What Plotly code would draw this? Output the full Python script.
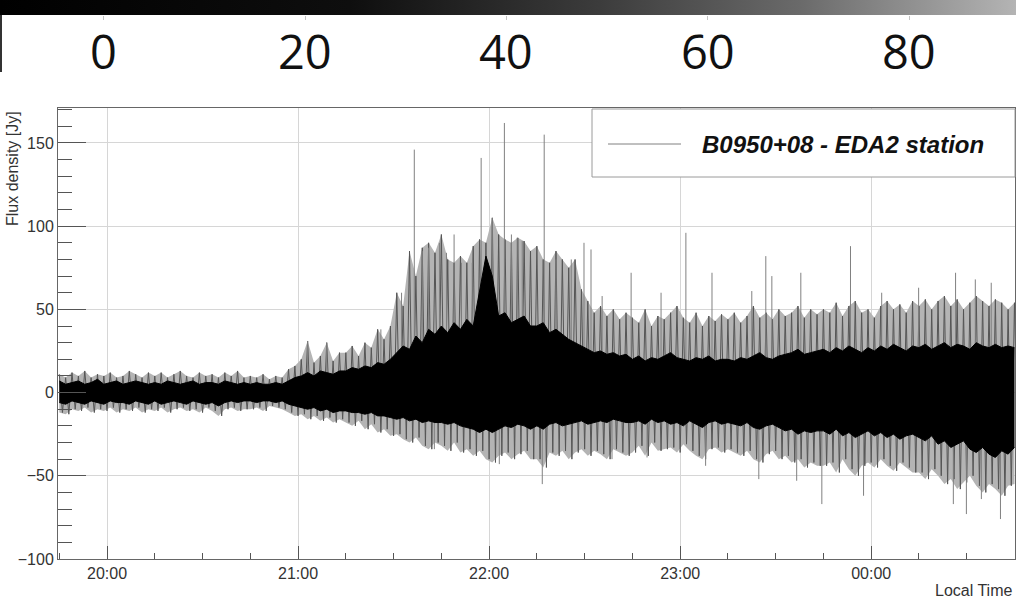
import pandas as pd
import plotly.graph_objects as go

# ---------------- data ----------------
START = pd.Timestamp("2019-01-01 19:45:00")
STEP_MIN = 2  # one reading every 2 minutes, 19:45 ... 00:45

# extremes of the grey noise (upper / lower) per 2-minute slot
outer_hi = [
    11, 9, 12, 10, 13, 9, 11, 10, 12, 9, 10, 13, 11, 9, 12,
    10, 12, 9, 11, 13, 10, 9, 12, 10, 11, 9, 12, 10, 13, 9,
    10, 9, 11, 8, 10, 9, 14, 16, 20, 31, 18, 22, 30, 19, 24,
    24, 28, 22, 30, 27, 38, 32, 40, 60, 52, 85, 70, 87, 90, 84,
    95, 80, 78, 82, 78, 88, 92, 90, 105, 95, 92, 90, 93, 91, 85,
    88, 80, 78, 85, 80, 75, 80, 62, 55, 48, 52, 46, 50, 44, 48,
    45, 42, 50, 40, 46, 44, 48, 52, 45, 42, 48, 40, 46, 43, 47,
    44, 48, 42, 46, 52, 45, 48, 44, 50, 46, 48, 52, 45, 50, 47,
    50, 48, 54, 46, 52, 55, 48, 50, 45, 52, 55, 50, 53, 48, 55,
    52, 56, 50, 55, 58, 52, 56, 50, 54, 58, 55, 52, 56, 54, 50,
    54,
]
outer_lo = [
    -12, -13, -10, -11, -9, -12, -10, -11, -9, -12, -10, -11, -9, -12, -10,
    -11, -9, -12, -10, -9, -11, -10, -12, -9, -11, -14, -10, -9, -11, -10,
    -10, -9, -11, -8, -9, -10, -12, -14, -13, -16, -14, -17, -15, -18, -16,
    -18, -20, -17, -22, -19, -24, -22, -26, -25, -28, -30, -27, -32, -34, -30,
    -32, -35, -30, -36, -34, -38, -35, -40, -42, -38, -36, -40, -37, -35, -40,
    -40, -45, -36, -38, -35, -40, -36, -34, -38, -35, -37, -40, -34, -36, -38,
    -36, -32, -38, -30, -35, -34, -33, -36, -31, -35, -38, -40, -34, -33, -36,
    -34, -36, -38, -35, -40, -42, -37, -35, -40, -38, -42, -40, -45, -42, -44,
    -44, -42, -48, -40, -46, -50, -44, -42, -45, -40, -44, -47, -42, -45, -48,
    -48, -52, -46, -50, -55, -52, -58, -54, -50, -56, -60, -55, -58, -62, -56,
    -55,
]
# edges of the dense black core per 2-minute slot
core_hi = [
    7, 5, 6, 7, 5, 6, 8, 5, 6, 7, 5, 6, 7, 6, 5,
    6, 5, 7, 6, 5, 6, 7, 5, 6, 6, 5, 7, 6, 5, 6,
    5, 6, 5, 5, 6, 5, 7, 9, 10, 12, 10, 13, 12, 11, 13,
    13, 15, 14, 16, 15, 18, 17, 20, 24, 28, 26, 34, 30, 38, 35,
    40, 36, 42, 38, 44, 40, 62, 82, 70, 46, 48, 42, 44, 46, 40,
    40, 42, 36, 38, 35, 32, 30, 28, 26, 24, 25, 23, 24, 22, 23,
    20, 22, 19, 21, 20, 22, 24, 21, 20, 19, 21, 20, 22, 19, 20,
    20, 19, 21, 20, 22, 24, 21, 20, 22, 23, 24, 26, 23, 24, 25,
    26, 24, 27, 25, 28, 26, 24, 27, 25, 28, 26, 29, 27, 25, 28,
    27, 29, 26, 28, 30, 27, 29, 28, 26, 30, 28, 27, 29, 27, 28,
    27,
]
core_lo = [
    -6, -7, -5, -6, -7, -5, -6, -7, -5, -6, -6, -7, -5, -6, -7,
    -5, -7, -6, -5, -6, -7, -5, -6, -7, -6, -8, -6, -5, -6, -5,
    -5, -6, -5, -5, -6, -5, -7, -8, -9, -10, -9, -11, -10, -12, -11,
    -11, -12, -12, -13, -12, -14, -14, -15, -16, -15, -17, -16, -18, -17, -18,
    -18, -19, -18, -20, -21, -22, -24, -22, -24, -22, -20, -21, -19, -20, -22,
    -20, -22, -19, -18, -20, -19, -18, -17, -19, -18, -17, -18, -16, -17, -18,
    -18, -17, -19, -16, -18, -17, -19, -18, -20, -17, -19, -21, -18, -17, -19,
    -18, -19, -20, -18, -21, -22, -20, -19, -21, -23, -22, -25, -23, -24, -23,
    -23, -25, -22, -26, -24, -27, -25, -23, -26, -24, -27, -25, -28, -26, -25,
    -27, -29, -26, -31, -29, -33, -31, -29, -34, -36, -33, -37, -39, -35, -37,
    -33,
]

# isolated tall spikes (local time, flux)
spike_times = [
    "21:03:00", "21:09:00", "21:26:00", "21:32:30", "21:36:30", "21:39:00",
    "21:41:00", "21:44:24", "21:46:36", "21:49:00", "21:51:18", "21:54:42",
    "21:57:30", "22:01:00", "22:04:48", "22:07:00", "22:08:48", "22:10:24",
    "22:17:18", "22:21:00", "22:25:48", "22:29:48", "22:32:00", "22:35:30",
    "22:44:36", "22:54:00", "23:01:48", "23:10:00", "23:22:30", "23:26:54",
    "23:28:48", "23:37:54", "23:53:30", "00:03:18", "00:14:54", "00:26:30",
    "00:32:42", "00:37:42",
]
spike_vals = [
    31, 30, 38, 60, 146, 85,
    87, 90, 84, 95, 78, 78,
    141, 105, 162, 95, 93, 91,
    155, 80, 80, 90, 86, 58,
    72, 60, 96, 72, 61, 82,
    70, 72, 88, 60, 63, 72,
    68, 66,
]
dip_times = [
    "21:42:48", "22:03:12", "22:16:42", "22:38:36", "22:49:36", "23:08:00",
    "23:24:42", "23:36:36", "23:44:30", "23:57:36", "00:25:48", "00:29:54",
    "00:34:36", "00:40:36",
]
dip_vals = [
    -34, -43, -55, -40, -39, -44,
    -52, -53, -67, -62, -67, -73,
    -64, -76,
]

hour_ticks = ["20:00", "21:00", "22:00", "23:00", "00:00"]
y_ticks = [-100, -50, 0, 50, 100, 150]
cbar_ticks = [0, 20, 40, 60, 80]
CBAR_MIN, CBAR_MAX = -10.3, 90.6
legend_label = "B0950+08 - EDA2 station"


# ---------------- helpers ----------------
def clock(s):
    t = pd.Timestamp(f"2019-01-01 {s}")
    if t.hour < 12:
        t += pd.Timedelta(days=1)
    return t


slots = [START + pd.Timedelta(minutes=STEP_MIN * i) for i in range(len(outer_hi))]
half = pd.Timedelta(minutes=STEP_MIN / 2)


def zigzag(hi, lo):
    xs, ys = [], []
    for t, a, b in zip(slots, hi, lo):
        xs += [t, t + half]
        ys += [a, b]
    return xs, ys


def sticks(times, vals):
    xs, ys = [], []
    for t, v in zip(times, vals):
        tt = clock(t)
        xs += [tt, tt, None]
        ys += [0, v, None]
    return xs, ys


W, H = 1016, 604
def px(x):
    return x / W
def py(y):
    return 1 - y / H

GREY = "#808080"
FONT = "Liberation Sans"
SKIP = dict(hoverinfo="skip", showlegend=False)

fig = go.Figure()

# grey halo (band between the grey extremes)
fig.add_trace(go.Scatter(x=slots, y=outer_lo, mode="lines", line=dict(width=0), **SKIP))
fig.add_trace(go.Scatter(x=slots, y=outer_hi, mode="lines", line=dict(width=0),
                         fill="tonexty", fillcolor="#b4b4b4", **SKIP))
# grey noise strokes
zx, zy = zigzag(outer_hi, outer_lo)
fig.add_trace(go.Scatter(x=zx, y=zy, mode="lines", line=dict(color="#555555", width=1), **SKIP))
# tall isolated spikes
sx, sy = sticks(spike_times, spike_vals)
fig.add_trace(go.Scatter(x=sx, y=sy, mode="lines", line=dict(color=GREY, width=1), **SKIP))
dx, dy = sticks(dip_times, dip_vals)
fig.add_trace(go.Scatter(x=dx, y=dy, mode="lines", line=dict(color=GREY, width=1), **SKIP))
# black core
fig.add_trace(go.Scatter(x=slots, y=core_lo, mode="lines", line=dict(color="black", width=1), **SKIP))
fig.add_trace(go.Scatter(x=slots, y=core_hi, mode="lines", line=dict(color="black", width=1),
                         fill="tonexty", fillcolor="black", **SKIP))

# colour-bar strip at the top (gradient filled box on its own axes)
fig.add_trace(go.Scatter(
    x=[CBAR_MIN, CBAR_MAX, CBAR_MAX, CBAR_MIN], y=[0, 0, 1, 1],
    xaxis="x2", yaxis="y2", mode="lines", line=dict(width=0), fill="toself",
    fillgradient=dict(type="horizontal",
                      colorscale=[[0, "#000000"], [0.344, "#0e0e0e"], [0.59, "#3c3c3c"],
                                  [0.787, "#6a6a6a"], [1, "#b4b4b4"]]),
    **SKIP))

x0 = pd.Timestamp("2019-01-01 19:44:36")
x1 = pd.Timestamp("2019-01-02 00:45:10")
hour_vals = [clock(h + ":00") for h in hour_ticks]

fig.update_layout(
    width=W, height=H, margin=dict(l=0, r=0, t=0, b=0),
    paper_bgcolor="white", plot_bgcolor="white", showlegend=False,
    font=dict(family=FONT, color="#333333"),
    xaxis=dict(
        domain=[px(58), px(1015)], range=[x0, x1], type="date", automargin=False,
        tickvals=hour_vals, ticktext=hour_ticks,
        ticks="inside", ticklen=13, tickcolor="#555555",
        showgrid=True, gridcolor="#d6d6d6", gridwidth=1,
        showline=True, linecolor="#666666", mirror=True, zeroline=False,
        tickfont=dict(family=FONT, size=16, color="#333333"),
        minor=dict(dtick=15 * 60 * 1000, ticks="inside", ticklen=6,
                   tickcolor="#555555", showgrid=False),
    ),
    yaxis=dict(
        domain=[py(559), py(108)], range=[-100, 171], automargin=False,
        tickvals=y_ticks, ticks="inside", ticklen=28, tickcolor="#555555",
        showgrid=True, gridcolor="#d6d6d6", gridwidth=1,
        showline=True, linecolor="#666666", mirror=True, zeroline=False,
        tickfont=dict(family=FONT, size=16, color="#333333"),
        minor=dict(dtick=10, ticks="inside", ticklen=14, tickcolor="#555555",
                   showgrid=False),
    ),
    xaxis2=dict(
        domain=[0, 1], range=[CBAR_MIN, CBAR_MAX], anchor="y2", automargin=False,
        tickvals=cbar_ticks, ticks="outside", ticklen=4, tickcolor="#c4c4c4",
        showticklabels=False, showgrid=False, zeroline=False, showline=False,
    ),
    yaxis2=dict(domain=[py(15), 1], range=[0, 1], anchor="x2", visible=False,
                automargin=False),
)

# colour-bar labels
for v in cbar_ticks:
    fig.add_annotation(xref="x2", yref="paper", x=v, y=py(51), showarrow=False,
                       xanchor="center", yanchor="middle", text=str(v),
                       font=dict(family="Open Sans", size=47, color="#111111"))

# legend box drawn by hand (ROOT style)
fig.add_shape(type="rect", xref="paper", yref="paper",
              x0=px(592), x1=px(1015), y0=py(177), y1=py(109),
              line=dict(color="#9a9a9a", width=1), fillcolor="white", layer="above")
fig.add_shape(type="line", xref="paper", yref="paper",
              x0=px(608), x1=px(681), y0=py(144), y1=py(144),
              line=dict(color=GREY, width=1))
fig.add_annotation(xref="paper", yref="paper", x=px(700), y=py(144),
                   xanchor="left", yanchor="middle", showarrow=False,
                   text=f"<b><i>{legend_label}</i></b>",
                   font=dict(family=FONT, size=24, color="#111111"))

# axis titles
fig.add_annotation(xref="paper", yref="paper", x=px(12), y=py(169),
                   xanchor="center", yanchor="middle", showarrow=False, textangle=-90,
                   text="Flux density [Jy]", font=dict(family=FONT, size=16, color="#333333"))
fig.add_annotation(xref="paper", yref="paper", x=px(1014), y=py(590),
                   xanchor="right", yanchor="middle", showarrow=False,
                   text="Local Time", font=dict(family=FONT, size=16, color="#333333"))

# dark edge at the left of the colour-bar strip
fig.add_shape(type="line", xref="paper", yref="paper",
              x0=px(1), x1=px(1), y0=py(72), y1=py(15),
              line=dict(color="#333333", width=2))

fig.write_html("out.html")
